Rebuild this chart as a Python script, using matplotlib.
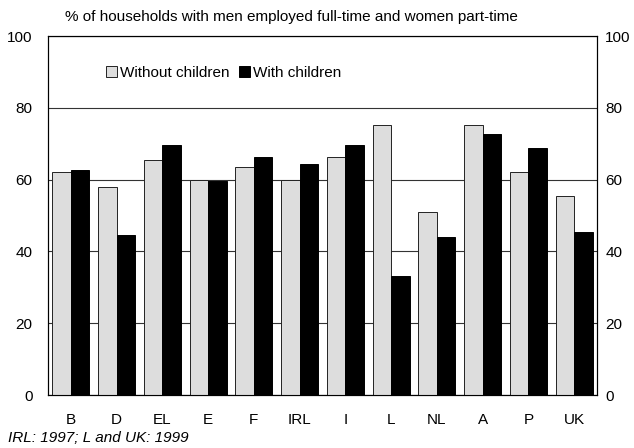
import numpy as np
import matplotlib
matplotlib.use('Agg')
import matplotlib.pyplot as plt

# Data
countries = ['B', 'D', 'EL', 'E', 'F', 'IRL', 'I', 'L', 'NL', 'A', 'P', 'UK']
without_children = [62.0, 57.8, 65.5, 59.8, 63.5, 60.0, 66.4, 75.1, 51.0, 75.1, 62.0, 55.5]
with_children = [62.7, 44.6, 69.6, 59.5, 66.4, 64.4, 69.6, 33.2, 44.0, 72.6, 68.9, 45.4]

plt.rcParams['font.family'] = ['Liberation Sans', 'DejaVu Sans']
fs = 11

fig = plt.figure(figsize=(6.34, 4.48), dpi=100)
ax = fig.add_axes([48 / 634, 53 / 448, 549 / 634, 359 / 448])

x = np.arange(len(countries))
w = 0.405
ax.bar(x - w / 2, without_children, w, color='#dddddd', edgecolor='#222222',
       linewidth=0.7, label='Without children', zorder=3)
ax.bar(x + w / 2, with_children, w, color='black', edgecolor='black',
       linewidth=0.7, label='With children', zorder=3)

ax.set_xlim(-0.5, len(countries) - 0.5)
ax.set_ylim(0, 100)
ax.set_yticks(range(0, 101, 20))
ax.yaxis.grid(True, color='#333333', linewidth=0.8, zorder=0)
ax.set_axisbelow(True)
ax.set_xticks(x)
ax.set_xticklabels(countries, fontsize=fs)
ax.tick_params(axis='both', length=0, labelsize=fs)
ax.tick_params(axis='x', pad=13)
ax.tick_params(axis='y', pad=11)
for s in ax.spines.values():
    s.set_linewidth(0.8)

ax2 = ax.twinx()
ax2.set_ylim(0, 100)
ax2.set_yticks(range(0, 101, 20))
ax2.tick_params(axis='y', length=0, pad=6, labelsize=fs)

leg = ax.legend(loc='upper left', bbox_to_anchor=(0.08, 0.955), ncol=2, frameon=False,
                handlelength=0.75, handleheight=0.75, handletextpad=0.2,
                columnspacing=0.6, fontsize=fs)

fig.text(65 / 634, 1 - 17 / 448, '% of households with men employed full-time and women part-time',
         ha='left', va='center', fontsize=fs)
fig.text(8 / 634, 1 - 438 / 448, 'IRL: 1997; L and UK: 1999', ha='left', va='center',
         fontsize=fs, style='italic')

fig.savefig('out.png', dpi=100)
